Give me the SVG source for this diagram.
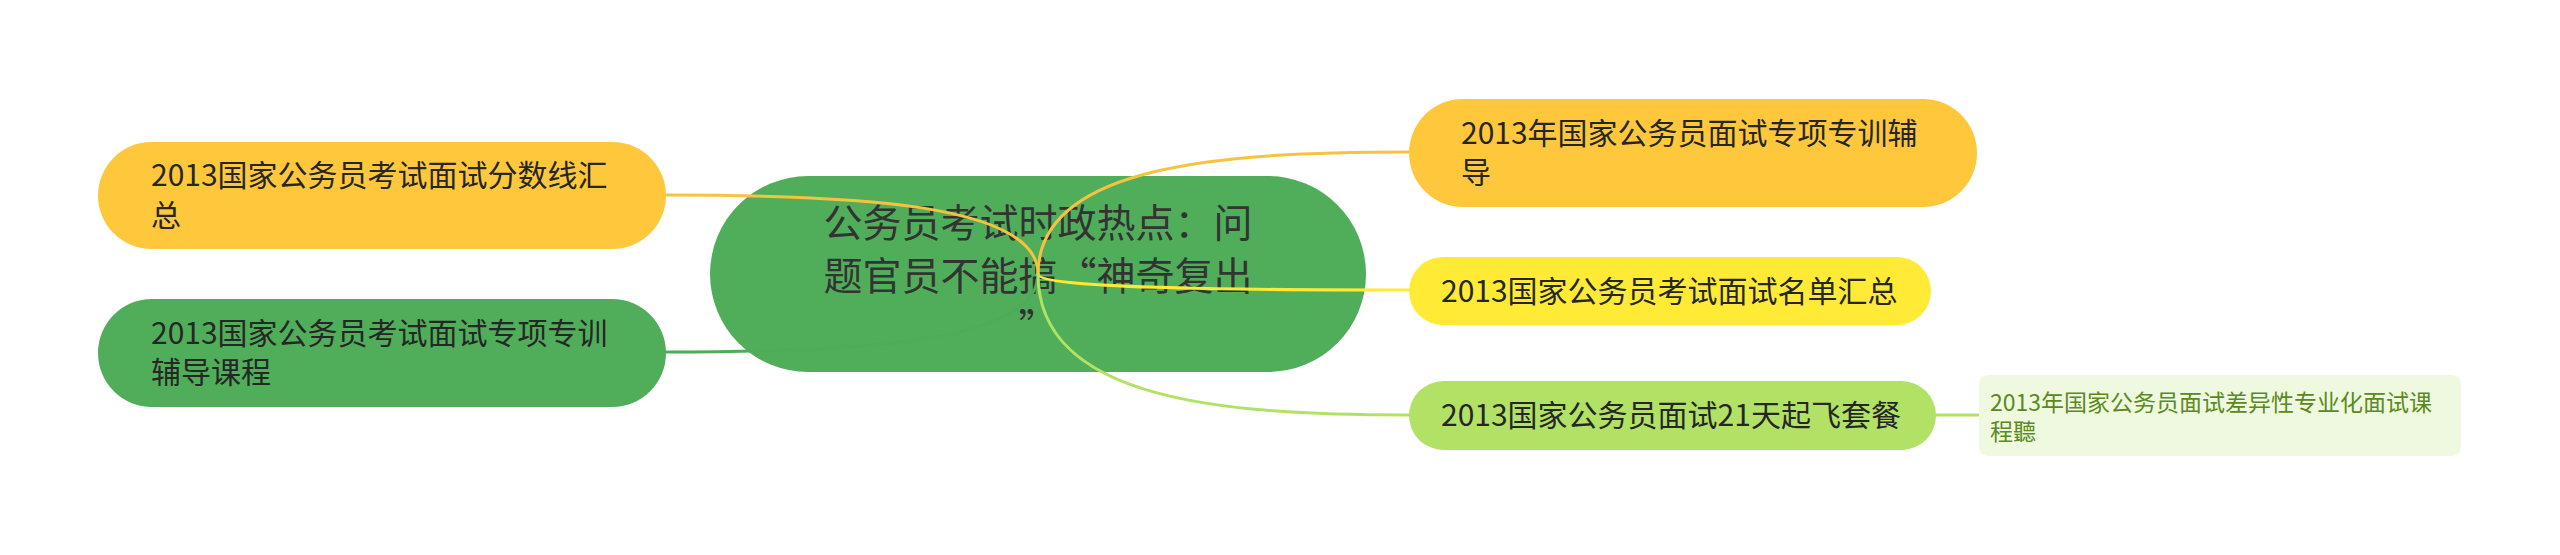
<svg xmlns="http://www.w3.org/2000/svg" width="2560" height="555" viewBox="0 0 2560 555">
<style>
text{font-family:"Noto Sans CJK SC","Noto Sans",sans-serif;}
.t1{font-size:30px;fill:#262626;}
.tc{font-size:39px;fill:#333333;text-anchor:middle;}
.t2{font-size:23px;fill:#5b8a1d;}
.ln{fill:none;stroke-width:3;stroke-linecap:round;}
</style>
<rect width="2560" height="555" fill="#ffffff"/>
<g id="center">
<rect x="710" y="176" width="656" height="196" rx="98" fill="#50ae5b"/>
<text class="tc"><tspan x="1038" y="237">公务员考试时政热点：问</tspan><tspan x="1038" y="290">题官员不能搞“神奇复出</tspan><tspan x="1038" y="342">”</tspan></text>
</g>
<g id="connectors">
<path class="ln" d="M1038 274 C1038 203 852 195 666 195" stroke="#f7c23f"/>
<path class="ln" d="M1038 274 C1038 344 852 352 666 352" stroke="#4eab59"/>
<path class="ln" d="M1038 274 C1038 164 1224 152 1409 152" stroke="#f7c23f"/>
<path class="ln" d="M1038 274 C1038 288 1224 290 1409 290" stroke="#fde936"/>
<path class="ln" d="M1038 274 C1038 401 1224 415 1409 415" stroke="#b2e265"/>
<path class="ln" d="M1936 415 L1979 415" stroke="#b2e265" stroke-width="3.5"/>
</g>
<g id="node-a">
<rect x="98" y="142" width="568" height="107" rx="53.5" fill="#ffc83c"/>
<text class="t1"><tspan x="151" y="186">2013国家公务员考试面试分数线汇</tspan><tspan x="151" y="226">总</tspan></text>
</g>
<g id="node-b">
<rect x="98" y="299" width="568" height="108" rx="54" fill="#50ae5b"/>
<text class="t1"><tspan x="151" y="344">2013国家公务员考试面试专项专训</tspan><tspan x="151" y="383">辅导课程</tspan></text>
</g>
<g id="node-c">
<rect x="1409" y="99" width="568" height="108" rx="54" fill="#ffc83c"/>
<text class="t1"><tspan x="1461" y="144">2013年国家公务员面试专项专训辅</tspan><tspan x="1461" y="183">导</tspan></text>
</g>
<g id="node-d">
<rect x="1409" y="257" width="522" height="68" rx="34" fill="#ffeb35"/>
<text class="t1" x="1441" y="302">2013国家公务员考试面试名单汇总</text>
</g>
<g id="node-e">
<rect x="1409" y="381" width="527" height="69" rx="34.5" fill="#b2e265"/>
<text class="t1" x="1441" y="426">2013国家公务员面试21天起飞套餐</text>
</g>
<g id="node-f">
<rect x="1979" y="375" width="482" height="81" rx="9" fill="#eff9df"/>
<text class="t2"><tspan x="1990" y="411">2013年国家公务员面试差异性专业化面试课</tspan><tspan x="1990" y="440">程聽</tspan></text>
</g>
</svg>
